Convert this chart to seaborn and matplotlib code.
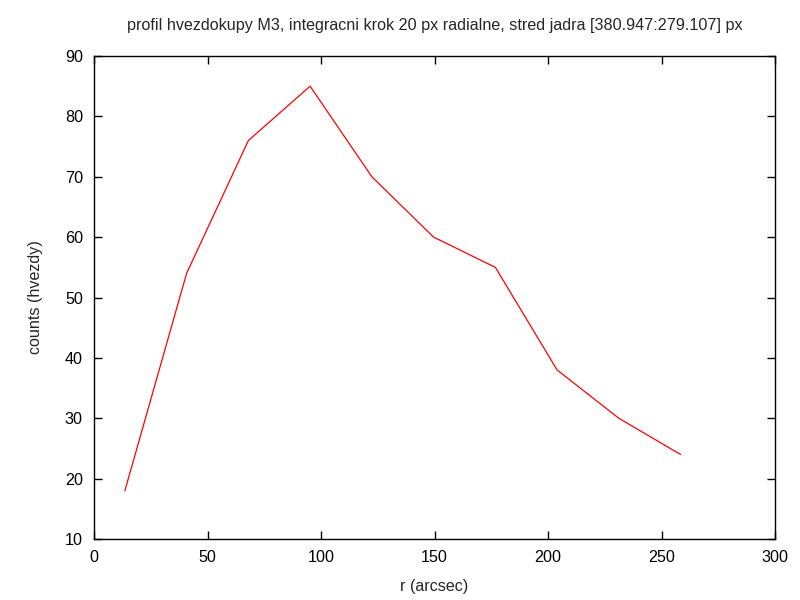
import matplotlib
matplotlib.use("Agg")
import matplotlib.pyplot as plt
import seaborn as sns
import pandas as pd

r_arcsec = [13.6, 40.8, 68.0, 95.2, 122.4, 149.6, 176.8, 204.0, 231.2, 258.4]
counts = [18, 54, 76, 85, 70, 60, 55, 38, 30, 24]
x_ticks = [0, 50, 100, 150, 200, 250, 300]
y_ticks = [10, 20, 30, 40, 50, 60, 70, 80, 90]

df = pd.DataFrame({"r": r_arcsec, "counts": counts})

sns.set_style("ticks")
plt.rcParams['font.family'] = ['Liberation Sans', 'DejaVu Sans']

fig = plt.figure(figsize=(8, 6), dpi=100)
ax = fig.add_axes([94/800, 1-539/600, (775-94)/800, (539-56)/600])
sns.lineplot(data=df, x="r", y="counts", ax=ax, color="#ff0000", linewidth=0.9)

ax.set_xlim(0, 300)
ax.set_ylim(10, 90)
ax.set_xticks(x_ticks)
ax.set_yticks(y_ticks)
ax.tick_params(direction="in", top=True, right=True, length=6, width=1, labelsize=11.6, pad=8, colors="black")
for s in ax.spines.values():
    s.set_visible(True)
    s.set_linewidth(1)
    s.set_color("black")
ax.set_xlabel("r (arcsec)", fontsize=11.6, labelpad=10)
ax.set_ylabel("counts (hvezdy)", fontsize=11.6, labelpad=16)
ax.set_title("profil hvezdokupy M3, integracni krok 20 px radialne, stred jadra [380.947:279.107] px", fontsize=11.6, pad=19)
fig.savefig("out.png", dpi=100)
